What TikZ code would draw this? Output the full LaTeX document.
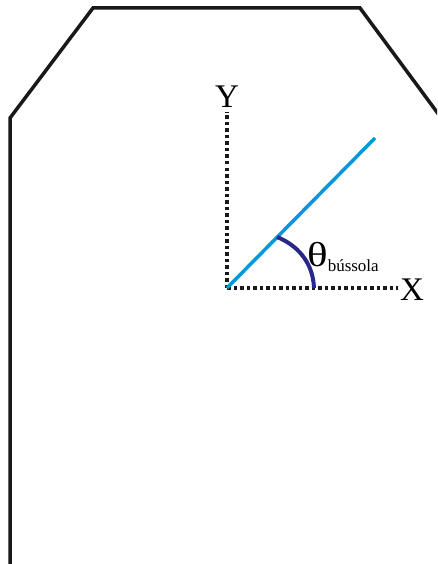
\documentclass[tikz,border=0pt]{standalone}
\usepackage{fontspec}
\setmainfont{Liberation Serif}
\begin{document}
\begin{tikzpicture}[x=1pt,y=-1pt,
  outline/.style={line width=3.5pt,black!90,line join=miter},
  axis/.style={line width=3.5pt,dash pattern=on 3.5pt off 3pt,black!90},
  needle/.style={line width=3.5pt,color={rgb,255:red,0;green,152;blue,218}},
  anglearc/.style={line width=4pt,color={rgb,255:red,40;green,40;blue,140}},
  lbl/.style={font=\fontsize{33}{34}\selectfont,inner sep=0pt}]
\useasboundingbox (0,0) rectangle (437,564);
\begin{scope}
\clip (0,0) rectangle (437,564);
\draw[outline] (10,566) -- (10,118) -- (93,8) -- (360,8) -- (445,123);
\end{scope}
\coordinate (o) at (227,288);
\coordinate (ytop) at (227,112);
\coordinate (xend) at (398,288);
\coordinate (tip) at (375,138);
\draw[axis] (o) -- (ytop);
\draw[axis] (o) -- (xend);
\node[lbl,anchor=base] (ylab) at (227,108) {Y};
\node[lbl,anchor=base west] (xlab) at (400,300) {X};
\draw[needle] (o) -- (tip);
\coordinate (a0) at (314,288);
\coordinate (a1) at (277,237);
\draw[anglearc] (a0) .. controls (313,262) and (297,245) .. (a1);
\node[lbl,anchor=base west] (th) at (307,266) {\scalebox{1.3}[1.05]{θ}\raisebox{-5pt}{\fontsize{17}{18}\selectfont bússola}};
\end{tikzpicture}
\end{document}
